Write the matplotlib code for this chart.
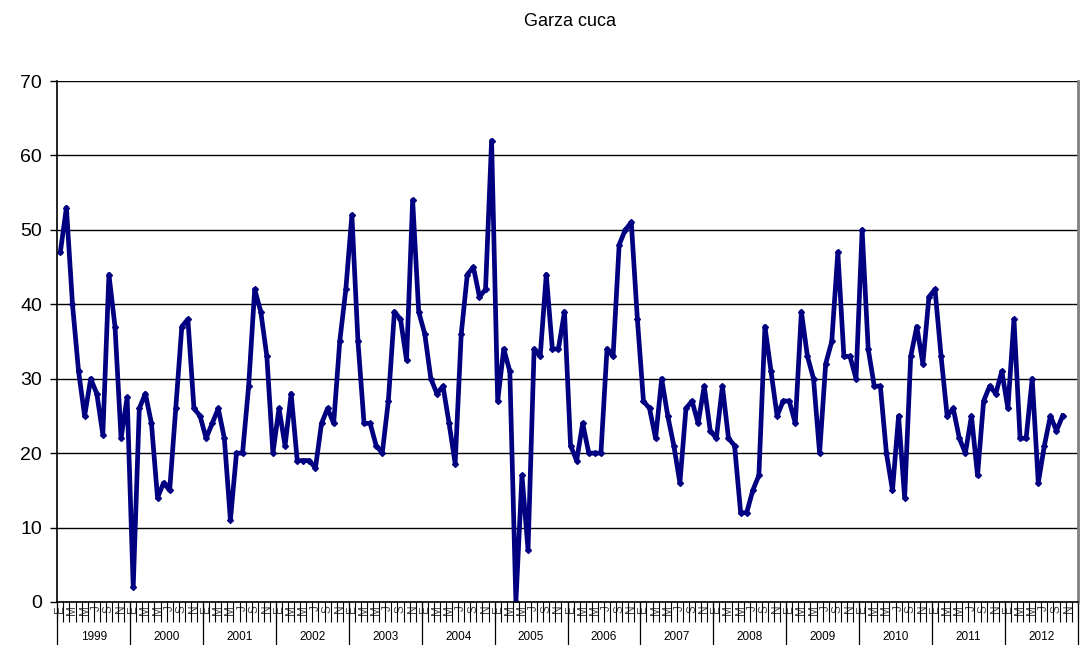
import matplotlib
matplotlib.use("Agg")
import matplotlib.pyplot as plt
import matplotlib.transforms as mtransforms

plt.rcParams["font.family"] = ["Liberation Sans", "DejaVu Sans"]

# monthly values, Jan 1999 .. Oct 2012
years = [str(y) for y in range(1999, 2013)]
month_letters = ["E", "F", "M", "A", "M", "J", "J", "A", "S", "O", "N", "D"]

v1999 = [47, 53, 40, 31, 25, 30, 28, 22.5, 44, 37, 22, 27.5]
v2000 = [2, 26, 28, 24, 14, 16, 15, 26, 37, 38, 26, 25]
v2001 = [22, 24, 26, 22, 11, 20, 20, 29, 42, 39, 33, 20]
v2002 = [26, 21, 28, 19, 19, 19, 18, 24, 26, 24, 35, 42]
v2003 = [52, 35, 24, 24, 21, 20, 27, 39, 38, 32.5, 54, 39]
v2004 = [36, 30, 28, 29, 24, 18.6, 36, 44, 45, 41, 42, 62]
v2005 = [27, 34, 31, 0, 17, 7, 34, 33, 44, 34, 34, 39]
v2006 = [21, 19, 24, 20, 20, 20, 34, 33, 48, 50, 51, 38]
v2007 = [27, 26, 22, 30, 25, 21, 16, 26, 27, 24, 29, 23]
v2008 = [22, 29, 22, 21, 12, 12, 15, 17, 37, 31, 25, 27]
v2009 = [27, 24, 39, 33, 30, 20, 32, 35, 47, 33, 33, 30]
v2010 = [50, 34, 29, 29, 20, 15, 25, 14, 33, 37, 32, 41]
v2011 = [42, 33, 25, 26, 22, 20, 25, 17, 27, 29, 28, 31]
v2012 = [26, 38, 22, 22, 30, 16, 21, 25, 23, 25]

values = (v1999 + v2000 + v2001 + v2002 + v2003 + v2004 + v2005 + v2006
          + v2007 + v2008 + v2009 + v2010 + v2011 + v2012)
n_cat = 12 * len(years)

fig = plt.figure(figsize=(10.81, 6.45), dpi=100)
ax = fig.add_axes([0.053, 0.0667, 0.944, 0.8077])

ax.plot(range(len(values)), values, color="#000080", lw=3.4,
        marker="D", markersize=3, solid_joinstyle="round")

ax.set_xlim(-0.5, n_cat - 0.5)
ax.set_ylim(0, 70)
ax.set_yticks(range(0, 71, 10))
ax.tick_params(axis="y", labelsize=14, length=5, width=1, color="black", pad=6)
ax.yaxis.grid(True, color="black", lw=1)
ax.set_axisbelow(True)

# month letters: every other category, tick marks between categories
ax.set_xticks(range(0, n_cat, 2))
ax.set_xticklabels([month_letters[i % 12] for i in range(0, n_cat, 2)],
                   rotation=90, fontsize=8.5, color="#444444")
ax.tick_params(axis="x", which="major", length=0, pad=2)
ax.set_xticks([i - 0.5 for i in range(n_cat + 1)], minor=True)
ax.tick_params(axis="x", which="minor", length=14.4, width=0.8, color="black")

ax.spines["top"].set_visible(False)
ax.spines["right"].set_color("#808080")
ax.spines["right"].set_linewidth(2)
ax.spines["left"].set_linewidth(1.2)
ax.spines["bottom"].set_linewidth(1.2)

# year separators and labels
trans = mtransforms.blended_transform_factory(ax.transData, ax.transAxes)
for k in range(len(years) + 1):
    ax.plot([12 * k - 0.5, 12 * k - 0.5], [0, -0.083], color="black",
            lw=0.9, transform=trans, clip_on=False)
for k, yr in enumerate(years):
    ax.text(12 * k + 5.5, -0.068, yr, transform=trans, ha="center",
            va="center", fontsize=8.5)

fig.text(0.527, 0.966, "Garza cuca", ha="center", va="center", fontsize=13)

fig.savefig("out.png", dpi=100)
